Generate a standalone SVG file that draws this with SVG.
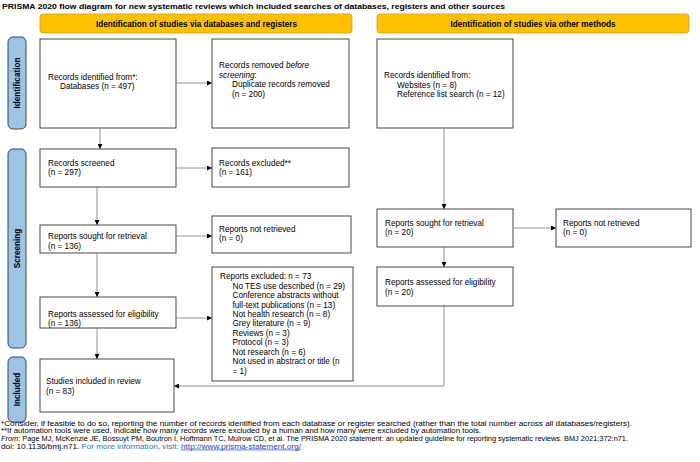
<svg xmlns="http://www.w3.org/2000/svg" width="700" height="462" viewBox="0 0 700 462">
<style>
  text { font-family: "Liberation Sans", Arial, sans-serif; fill: #000; }
  .t { font-size: 8.2px; }
  .box { fill: #fff; stroke: #333; stroke-width: 0.9; }
  .hdr { fill: #FFC000; stroke: #C9A227; stroke-width: 0.8; }
  .hdrt { font-size: 8.2px; font-weight: bold; text-anchor: middle; }
  .side { fill: #9DC3E6; stroke: #2E3440; stroke-width: 0.9; }
  .sidet { font-size: 8.2px; font-weight: bold; text-anchor: middle; }
  .conn { fill: none; stroke: #777; stroke-width: 0.8; marker-end: url(#arr); }
  .foot { font-size: 6.8px; }
</style>
<defs>
  <marker id="arr" markerUnits="userSpaceOnUse" markerWidth="5" markerHeight="5" refX="5" refY="2.5" orient="auto">
    <path d="M0,0 L5,2.5 L0,5 z" fill="#000"/>
  </marker>
</defs>
<rect width="700" height="462" fill="#fff"/>

<text x="2" y="8.5" style="font-size:7.8px;font-weight:bold" textLength="503" lengthAdjust="spacingAndGlyphs">PRISMA 2020 flow diagram for new systematic reviews which included searches of databases, registers and other sources</text>

<g id="header-db">
  <rect class="hdr" x="40" y="14" width="312" height="19" rx="3"/>
  <text class="hdrt" x="196.5" y="27" textLength="201" lengthAdjust="spacingAndGlyphs">Identification of studies via databases and registers</text>
</g>
<g id="header-other">
  <rect class="hdr" x="377" y="14" width="312" height="19" rx="3"/>
  <text class="hdrt" x="533" y="27" textLength="165" lengthAdjust="spacingAndGlyphs">Identification of studies via other methods</text>
</g>

<g id="side-identification">
  <rect class="side" x="8" y="37" width="18" height="92" rx="5"/>
  <text class="sidet" transform="translate(20,83) rotate(-90)">Identification</text>
</g>
<g id="side-screening">
  <rect class="side" x="8" y="149" width="18" height="199" rx="5"/>
  <text class="sidet" transform="translate(20,248.5) rotate(-90)">Screening</text>
</g>
<g id="side-included">
  <rect class="side" x="8" y="357" width="18" height="65" rx="5"/>
  <text class="sidet" transform="translate(20,389.5) rotate(-90)">Included</text>
</g>

<g id="records-identified">
  <rect class="box" x="40" y="39" width="136" height="89"/>
  <text class="t" x="48" y="79.8">Records identified from*:</text>
  <text class="t" x="60" y="89.2">Databases (n = 497)</text>
</g>
<g id="records-removed">
  <rect class="box" x="212" y="39" width="137" height="89"/>
  <text class="t" x="219" y="68.3">Records removed <tspan font-style="italic">before</tspan></text>
  <text class="t" x="219" y="77.8"><tspan font-style="italic">screening</tspan>:</text>
  <text class="t" x="232" y="87.2">Duplicate records removed</text>
  <text class="t" x="232" y="96.7">(n = 200)</text>
</g>
<g id="records-screened">
  <rect class="box" x="40" y="149" width="136" height="38"/>
  <text class="t" x="48" y="166">Records screened</text>
  <text class="t" x="48" y="175.4">(n = 297)</text>
</g>
<g id="records-excluded">
  <rect class="box" x="212" y="148" width="137" height="39"/>
  <text class="t" x="219" y="166">Records excluded**</text>
  <text class="t" x="219" y="175.4">(n = 161)</text>
</g>
<g id="reports-sought">
  <rect class="box" x="40" y="225" width="136" height="28"/>
  <text class="t" x="48" y="239.3">Reports sought for retrieval</text>
  <text class="t" x="48" y="248.7">(n = 136)</text>
</g>
<g id="reports-not-retrieved">
  <rect class="box" x="212" y="216" width="139" height="37"/>
  <text class="t" x="219" y="232">Reports not retrieved</text>
  <text class="t" x="219" y="241.4">(n = 0)</text>
</g>
<g id="reports-assessed">
  <rect class="box" x="40" y="297" width="136" height="31"/>
  <text class="t" x="48" y="316.5">Reports assessed for eligibility</text>
  <text class="t" x="48" y="325.9">(n = 136)</text>
</g>
<g id="reports-excluded">
  <rect class="box" x="212" y="267" width="141" height="114"/>
  <text class="t" x="220" y="279.2">Reports excluded: n = 73</text>
  <text class="t" x="232.5" y="288.6">No TES use described (n = 29)</text>
  <text class="t" x="232.5" y="298.1">Conference abstracts without</text>
  <text class="t" x="232.5" y="307.5">full-text publications (n = 13)</text>
  <text class="t" x="232.5" y="317">Not health research (n = 8)</text>
  <text class="t" x="232.5" y="326.4">Grey literature (n = 9)</text>
  <text class="t" x="232.5" y="335.9">Reviews (n = 3)</text>
  <text class="t" x="232.5" y="345.3">Protocol (n = 3)</text>
  <text class="t" x="232.5" y="354.8">Not research (n = 6)</text>
  <text class="t" x="232.5" y="364.2">Not used in abstract or title (n</text>
  <text class="t" x="232.5" y="373.7">= 1)</text>
</g>
<g id="studies-included">
  <rect class="box" x="40" y="359" width="134" height="53"/>
  <text class="t" x="46" y="384.3">Studies included in review</text>
  <text class="t" x="46" y="393.7">(n = 83)</text>
</g>

<g id="other-records-identified">
  <rect class="box" x="377" y="39" width="136" height="89"/>
  <text class="t" x="384" y="78.3">Records identified from:</text>
  <text class="t" x="397" y="87.7">Websites (n = 8)</text>
  <text class="t" x="397" y="97.2">Reference list search (n = 12)</text>
</g>
<g id="other-reports-sought">
  <rect class="box" x="377" y="209" width="136" height="38"/>
  <text class="t" x="385" y="226">Reports sought for retrieval</text>
  <text class="t" x="385" y="235.4">(n = 20)</text>
</g>
<g id="other-reports-not-retrieved">
  <rect class="box" x="556" y="209" width="135" height="38"/>
  <text class="t" x="563" y="226">Reports not retrieved</text>
  <text class="t" x="563" y="235.4">(n = 0)</text>
</g>
<g id="other-reports-assessed">
  <rect class="box" x="377" y="267" width="136" height="39"/>
  <text class="t" x="385" y="285.3">Reports assessed for eligibility</text>
  <text class="t" x="385" y="294.7">(n = 20)</text>
</g>

<g id="connectors">
  <path class="conn" d="M176,83 H212"/>
  <path class="conn" d="M100,128 V149"/>
  <path class="conn" d="M176,168 H212"/>
  <path class="conn" d="M97,187 V225"/>
  <path class="conn" d="M176,236 H212"/>
  <path class="conn" d="M97,253 V297"/>
  <path class="conn" d="M176,318 H212"/>
  <path class="conn" d="M97,328 V359"/>
  <path class="conn" d="M444,128 V209"/>
  <path class="conn" d="M513,228 H556"/>
  <path class="conn" d="M444,247 V267"/>
  <path class="conn" d="M444,306 V386 H174"/>
</g>

<g id="footnotes">
  <text class="foot" x="1" y="425.5" textLength="631" lengthAdjust="spacingAndGlyphs">*Consider, if feasible to do so, reporting the number of records identified from each database or register searched (rather than the total number across all databases/registers).</text>
  <text class="foot" x="1" y="433.2" textLength="480" lengthAdjust="spacingAndGlyphs">**If automation tools were used, indicate how many records were excluded by a human and how many were excluded by automation tools.</text>
  <text class="foot" x="1" y="441" textLength="627" lengthAdjust="spacingAndGlyphs"><tspan font-style="italic">From: </tspan> Page MJ, McKenzie JE, Bossuyt PM, Boutron I, Hoffmann TC, Mulrow CD, et al. The PRISMA 2020 statement: an updated guideline for reporting systematic reviews. BMJ 2021;372:n71.</text>
  <text class="foot" x="1" y="448.6" textLength="300" lengthAdjust="spacingAndGlyphs">doi: 10.1136/bmj.n71. <tspan fill="#2E75B6">For more information, visit: </tspan><tspan fill="#1F3FBF" text-decoration="underline">http://www.prisma-statement.org/</tspan></text>
</g>
</svg>
